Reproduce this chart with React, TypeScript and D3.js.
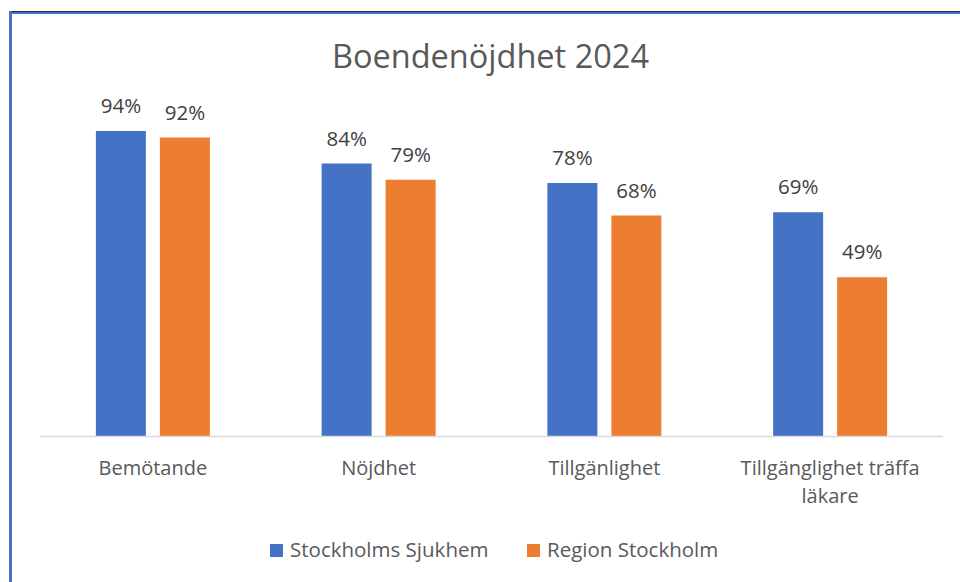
import React from "react";
import * as d3 from "d3";

const categories = ["Bemötande", "Nöjdhet", "Tillgänlighet", "Tillgänglighet träffa läkare"];
const categoryLines = [["Bemötande"], ["Nöjdhet"], ["Tillgänlighet"], ["Tillgänglighet träffa", "läkare"]];
const seriesNames = ["Stockholms Sjukhem", "Region Stockholm"];
const sjukhemValues = [94, 84, 78, 69];
const regionValues = [92, 79, 68, 49];
const seriesColors = ["#4472C4", "#ED7D31"];
const title = "Boendenöjdhet 2024";

const W = 960;
const H = 582;
const FONT = "'Open Sans', 'Noto Sans', sans-serif";

export default function App() {
  const plotLeft = 40;
  const plotRight = 943;
  const baseY = 436.5;
  const x0 = d3.scaleBand<string>().domain(categories).range([plotLeft, plotRight]).padding(0);
  const band = x0.bandwidth();
  const barW = 50;
  const gap = 14;
  const step = barW + gap;
  const pi = gap / step;
  const po = (band / step - 2 + pi) / 2;
  const x1 = d3.scaleBand<string>().domain(seriesNames).range([0, band]).paddingInner(pi).paddingOuter(po);
  const y = d3.scaleLinear().domain([0, 100]).range([baseY, 111.5]);
  const series = [sjukhemValues, regionValues];

  return (
    <svg width={W} height={H} style={{ position: "absolute", left: 0, top: 0, background: "#fff" }} fontFamily={FONT}>
      <rect x={0} y={0} width={W} height={H} fill="#fff" />
      {/* border */}
      <line x1={10.5} y1={12.5} x2={W} y2={12.5} stroke="#4472C4" strokeWidth={3} />
      <line x1={9} y1={11.5} x2={W} y2={11.5} stroke="#1f2a44" strokeWidth={1} />
      <line x1={10.5} y1={11} x2={10.5} y2={H} stroke="#4472C4" strokeWidth={3} />

      <text x={490.5} y={67.5} textAnchor="middle" fontSize={32.5} fill="#595959">{title}</text>

      {categories.map((c, i) => (
        <g key={c}>
          {series.map((vals, s) => {
            const xx = (x0(c) as number) + (x1(seriesNames[s]) as number);
            const w = x1.bandwidth();
            return (
              <g key={s}>
                <rect x={xx} y={y(vals[i])} width={w} height={baseY - y(vals[i])} fill={seriesColors[s]} />
                <text x={xx + w / 2} y={y(vals[i]) - 18} textAnchor="middle" fontSize={20.5} fill="#404040">
                  {vals[i]}%
                </text>
              </g>
            );
          })}
        </g>
      ))}

      <line x1={plotLeft} y1={baseY} x2={plotRight} y2={baseY} stroke="#D9D9D9" strokeWidth={1.5} />

      {categories.map((c, i) => (
        <text key={c} x={(x0(c) as number) + band / 2} y={475} textAnchor="middle" fontSize={20} fill="#595959">
          {categoryLines[i].map((l, k) => (
            <tspan key={k} x={(x0(c) as number) + band / 2} dy={k === 0 ? 0 : 28}>{l}</tspan>
          ))}
        </text>
      ))}

      {/* legend */}
      <rect x={270} y={544} width={13} height={13} fill={seriesColors[0]} />
      <text x={290} y={557} fontSize={20.5} fill="#595959">{seriesNames[0]}</text>
      <rect x={527} y={544} width={13} height={13} fill={seriesColors[1]} />
      <text x={547} y={557} fontSize={20.5} fill="#595959">{seriesNames[1]}</text>
    </svg>
  );
}
